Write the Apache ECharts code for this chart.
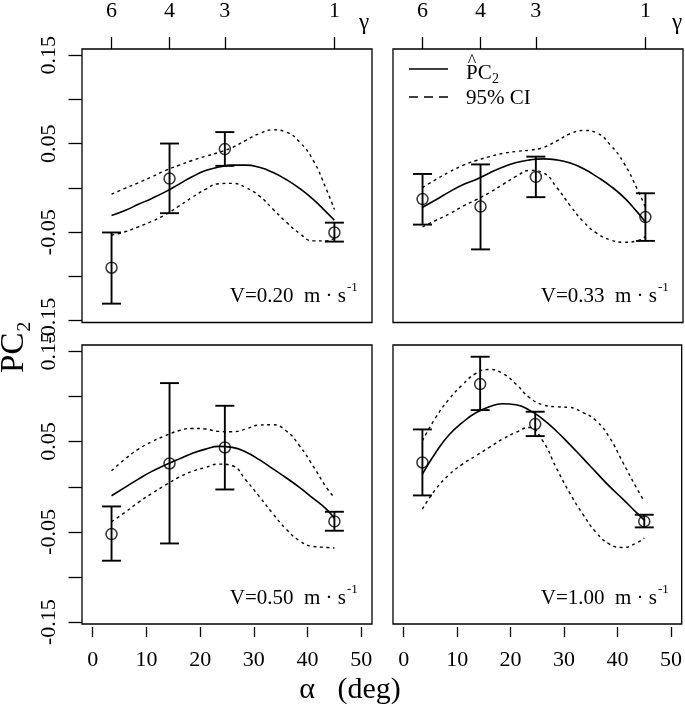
<!DOCTYPE html>
<html>
<head>
<meta charset="utf-8">
<script src="https://cdn.jsdelivr.net/npm/echarts@6/dist/echarts.min.js"></script>
<style>
html,body{margin:0;padding:0;background:#fff;}
#chart{width:685px;height:707px;}
</style>
</head>
<body>
<div id="chart"></div>
<script>
// ---------------- data ----------------
const alphaGrid = [3.5, 6, 8.5, 11, 13.5, 16, 18.5, 21, 23.5, 26, 28.5, 31, 33.5, 36, 38.5, 41, 43.5, 45];
const obsAlpha = [3.5, 14.3, 24.6, 45];
const gammaLabels = ['6', '4', '3', '1'];
const xTicks = [0, 10, 20, 30, 40, 50];
const yTicks = [-0.15, -0.10, -0.05, 0, 0.05, 0.10, 0.15];
const yTickLabels = [-0.15, -0.05, 0.05, 0.15];
const panelTitles = ['V=0.20  m · s', 'V=0.33  m · s', 'V=0.50  m · s', 'V=1.00  m · s'];

// V = 0.20
const fit020   = [-0.0310, -0.0255, -0.0185, -0.0118, -0.0044, 0.0041, 0.0126, 0.0196, 0.0236, 0.0258, 0.0258, 0.0233, 0.0177, 0.0096, -0.0004, -0.0126, -0.0273, -0.0365];
const upper020 = [-0.0070, -0.0004, 0.0059, 0.0126, 0.0196, 0.0255, 0.0310, 0.0358, 0.0402, 0.0458, 0.0539, 0.0613, 0.0657, 0.0631, 0.0520, 0.0317, -0.0015, -0.0244];
const lower020 = [-0.0532, -0.0495, -0.0439, -0.0377, -0.0303, -0.0207, -0.0107, -0.0015, 0.0048, 0.0052, 0.0004, -0.0089, -0.0236, -0.0384, -0.0513, -0.0598, -0.0598, -0.0568];
const obs020   = [-0.0901, 0.0106, 0.0439, -0.0503];
const errLo020 = [-0.1307, -0.0285, 0.025, -0.0606];
const errHi020 = [-0.0503, 0.0502, 0.0631, -0.0392];

// V = 0.33
const fit033   = [-0.0218, -0.0133, -0.0044, 0.0037, 0.0096, 0.0170, 0.0236, 0.0288, 0.0317, 0.0329, 0.0317, 0.0281, 0.0218, 0.0126, 0.0022, -0.0107, -0.0273, -0.0384];
const upper033 = [0.0004, 0.0096, 0.0181, 0.0255, 0.0310, 0.0354, 0.0391, 0.0413, 0.0428, 0.0458, 0.0532, 0.0613, 0.0650, 0.0620, 0.0484, 0.0281, -0.0015, -0.0218];
const lower033 = [-0.0439, -0.0365, -0.0292, -0.0207, -0.0133, -0.0052, 0.0041, 0.0133, 0.0199, 0.0170, 0.0004, -0.0199, -0.0384, -0.0513, -0.0587, -0.0613, -0.0598, -0.0550];
const obs033   = [-0.0126, -0.021, 0.0125, -0.0329];
const errLo033 = [-0.0414, -0.0694, -0.0104, -0.0598];
const errHi033 = [0.0158, 0.0266, 0.0354, -0.006];

// V = 0.50
const fit050   = [-0.0100, -0.0007, 0.0085, 0.0170, 0.0240, 0.0306, 0.0369, 0.0417, 0.0447, 0.0436, 0.0385, 0.0300, 0.0200, 0.0100, -0.0007, -0.0126, -0.0247, -0.0351];
const upper050 = [0.0177, 0.0306, 0.0417, 0.0498, 0.0565, 0.0620, 0.0646, 0.0639, 0.0613, 0.0609, 0.0639, 0.0683, 0.0687, 0.0620, 0.0454, 0.0233, -0.0007, -0.0118];
const lower050 = [-0.0388, -0.0284, -0.0173, -0.0074, 0.0018, 0.0103, 0.0170, 0.0214, 0.0251, 0.0233, 0.0074, -0.0107, -0.0295, -0.0469, -0.0598, -0.0661, -0.0672, -0.0679];
const obs050   = [-0.0524, 0.0258, 0.0435, -0.0384];
const errLo050 = [-0.0819, -0.0628, -0.003, -0.0487];
const errHi050 = [-0.0218, 0.1148, 0.0897, -0.0277];

// V = 1.00
const fit100   = [0.0140, 0.0380, 0.0576, 0.0712, 0.0819, 0.0886, 0.0919, 0.0908, 0.0849, 0.0749, 0.0620, 0.0472, 0.0317, 0.0159, 0.0004, -0.0137, -0.0284, -0.0369];
const upper100 = [0.0509, 0.0768, 0.0971, 0.1130, 0.1255, 0.1299, 0.1255, 0.1137, 0.0989, 0.0908, 0.0886, 0.0879, 0.0823, 0.0731, 0.0546, 0.0269, -0.0007, -0.0162];
const lower100 = [-0.0247, -0.0026, 0.0133, 0.0251, 0.0343, 0.0436, 0.0528, 0.0602, 0.0657, 0.0509, 0.0214, -0.0063, -0.0303, -0.0506, -0.0635, -0.0672, -0.0624, -0.0568];
const obs100   = [0.0269, 0.1137, 0.0694, -0.0384];
const errLo100 = [-0.0096, 0.0849, 0.0561, -0.045];
const errHi100 = [0.0635, 0.144, 0.0831, -0.031];

const panels = [
  {fit: fit020, upper: upper020, lower: lower020, obs: obs020, lo: errLo020, hi: errHi020},
  {fit: fit033, upper: upper033, lower: lower033, obs: obs033, lo: errLo033, hi: errHi033},
  {fit: fit050, upper: upper050, lower: lower050, obs: obs050, lo: errLo050, hi: errHi050},
  {fit: fit100, upper: upper100, lower: lower100, obs: obs100, lo: errLo100, hi: errHi100}
];

// ---------------- layout ----------------
const FONT = 'Liberation Serif';
const gridBoxes = [
  {left: 82, top: 43.5, width: 290, height: 279},
  {left: 393, top: 43.5, width: 290, height: 279},
  {left: 82, top: 345, width: 290, height: 279},
  {left: 393, top: 345, width: 290, height: 279}
];
const X_MIN = -2, X_MAX = 52, Y_MIN = -0.152, Y_MAX = 0.157;

const grids = gridBoxes.map(g => ({
  left: g.left, top: g.top, width: g.width, height: g.height,
  show: true, borderColor: '#000', borderWidth: 1.3, backgroundColor: 'transparent',
  containLabel: false
}));

const xAxes = [];
const yAxes = [];
for (let i = 0; i < 4; i++) {
  const isBottom = i >= 2;
  const isLeft = i % 2 === 0;
  // bottom alpha axis
  xAxes.push({
    type: 'value', gridIndex: i, position: 'bottom', min: X_MIN, max: X_MAX,
    offset: 3, show: isBottom,
    axisLine: {show: false, onZero: false}, splitLine: {show: false},
    axisTick: {show: true, length: 10, customValues: xTicks, lineStyle: {color: '#000', width: 1.3}},
    axisLabel: {show: true, customValues: xTicks, margin: 22, color: '#000', fontFamily: FONT, fontSize: 22,
      formatter: v => String(Math.round(v))}
  });
  // top gamma axis
  xAxes.push({
    type: 'value', gridIndex: i, position: 'top', min: X_MIN, max: X_MAX,
    show: !isBottom,
    axisLine: {show: false, onZero: false}, splitLine: {show: false},
    axisTick: {show: true, length: 12, customValues: obsAlpha, lineStyle: {color: '#000', width: 1.3}},
    axisLabel: {show: true, customValues: obsAlpha, margin: 27, color: '#000', fontFamily: FONT, fontSize: 22,
      formatter: v => {
        let best = 0;
        obsAlpha.forEach((a, k) => { if (Math.abs(a - v) < Math.abs(obsAlpha[best] - v)) best = k; });
        return gammaLabels[best];
      }}
  });
  yAxes.push({
    type: 'value', gridIndex: i, min: Y_MIN, max: Y_MAX, position: 'left',
    axisLine: {show: false, onZero: false}, splitLine: {show: false},
    axisTick: {show: isLeft, length: 13.5, customValues: yTicks, lineStyle: {color: '#000', width: 1.3}},
    axisLabel: {show: isLeft, customValues: yTickLabels, rotate: 90, margin: 22, color: '#000',
      fontFamily: FONT, fontSize: 22, formatter: v => v.toFixed(2)}
  });
}

function errRender(params, api) {
  const x = api.value(0), lo = api.value(1), hi = api.value(2);
  const pLo = api.coord([x, lo]);
  const pHi = api.coord([x, hi]);
  const hw = 9.5;
  const st = {stroke: '#000', lineWidth: 1.9, fill: null};
  return {
    type: 'group',
    children: [
      {type: 'line', shape: {x1: pLo[0], y1: pLo[1], x2: pHi[0], y2: pHi[1]}, style: st},
      {type: 'line', shape: {x1: pLo[0] - hw, y1: pLo[1], x2: pLo[0] + hw, y2: pLo[1]}, style: st},
      {type: 'line', shape: {x1: pHi[0] - hw, y1: pHi[1], x2: pHi[0] + hw, y2: pHi[1]}, style: st}
    ]
  };
}

const series = [];
panels.forEach((p, i) => {
  const xi = i * 2;
  const pair = arr => alphaGrid.map((a, k) => [a, arr[k]]);
  series.push({
    type: 'line', xAxisIndex: xi, yAxisIndex: i, data: pair(p.fit), smooth: true,
    showSymbol: false, silent: true, lineStyle: {color: '#000', width: 1.6}
  });
  series.push({
    type: 'line', xAxisIndex: xi, yAxisIndex: i, data: pair(p.upper), smooth: true,
    showSymbol: false, silent: true, lineStyle: {color: '#000', width: 1.4, type: [3, 3.5]}
  });
  series.push({
    type: 'line', xAxisIndex: xi, yAxisIndex: i, data: pair(p.lower), smooth: true,
    showSymbol: false, silent: true, lineStyle: {color: '#000', width: 1.4, type: [3, 3.5]}
  });
  series.push({
    type: 'custom', xAxisIndex: xi, yAxisIndex: i, renderItem: errRender, silent: true,
    encode: {x: 0, y: [1, 2]},
    data: obsAlpha.map((a, k) => [a, p.lo[k], p.hi[k]])
  });
  series.push({
    type: 'scatter', xAxisIndex: xi, yAxisIndex: i, symbol: 'circle', symbolSize: 11, silent: true,
    itemStyle: {color: 'rgba(0,0,0,0)', borderColor: '#000', borderWidth: 1.5},
    data: obsAlpha.map((a, k) => [a, p.obs[k]])
  });
});

// ---------------- text graphics ----------------
const graphics = [];
const txt = (x, y, text, size, extra) => Object.assign({
  type: 'text', x: x, y: y, silent: true,
  style: Object.assign({text: text, fill: '#000', font: size + 'px "' + FONT + '"',
    textAlign: 'left', textVerticalAlign: 'middle'}, (extra && extra.style) || {})
}, extra && extra.rot !== undefined ? {rotation: extra.rot} : {});

// panel V labels
const vPos = [[346, 296], [657, 296], [346, 598], [657, 598]];
panelTitles.forEach((t, i) => {
  graphics.push(txt(vPos[i][0], vPos[i][1], t, 21, {style: {textAlign: 'right'}}));
  graphics.push(txt(vPos[i][0] + 1, vPos[i][1] - 8, '-1', 13, {style: {textAlign: 'left'}}));
});
// gamma labels
graphics.push(txt(364, 23, 'γ', 23, {style: {textAlign: 'center'}}));
graphics.push(txt(677, 23, 'γ', 23, {style: {textAlign: 'center'}}));
// axis titles
graphics.push(txt(350, 690, 'α   (deg)', 30, {style: {textAlign: 'center'}}));
graphics.push(txt(14, 347, 'PC₂', 33, {style: {textAlign: 'center'}, rot: Math.PI / 2}));
// legend
graphics.push({type: 'line', silent: true, shape: {x1: 409, y1: 69, x2: 448, y2: 69}, style: {stroke: '#000', lineWidth: 1.6}});
graphics.push({type: 'line', silent: true, shape: {x1: 409, y1: 97, x2: 448, y2: 97}, style: {stroke: '#000', lineWidth: 1.4, lineDash: [9, 6]}});
graphics.push(txt(466, 73, 'PC', 21));
graphics.push(txt(472, 62, '^', 18, {style: {textAlign: 'center'}}));
graphics.push(txt(492, 79, '2', 14));
graphics.push(txt(466, 98, '95% CI', 21));

const chart = echarts.init(document.getElementById('chart'), null, {renderer: 'canvas'});
chart.setOption({
  animation: false,
  backgroundColor: '#fff',
  grid: grids,
  xAxis: xAxes,
  yAxis: yAxes,
  series: series,
  graphic: graphics
});
</script>
</body>
</html>
